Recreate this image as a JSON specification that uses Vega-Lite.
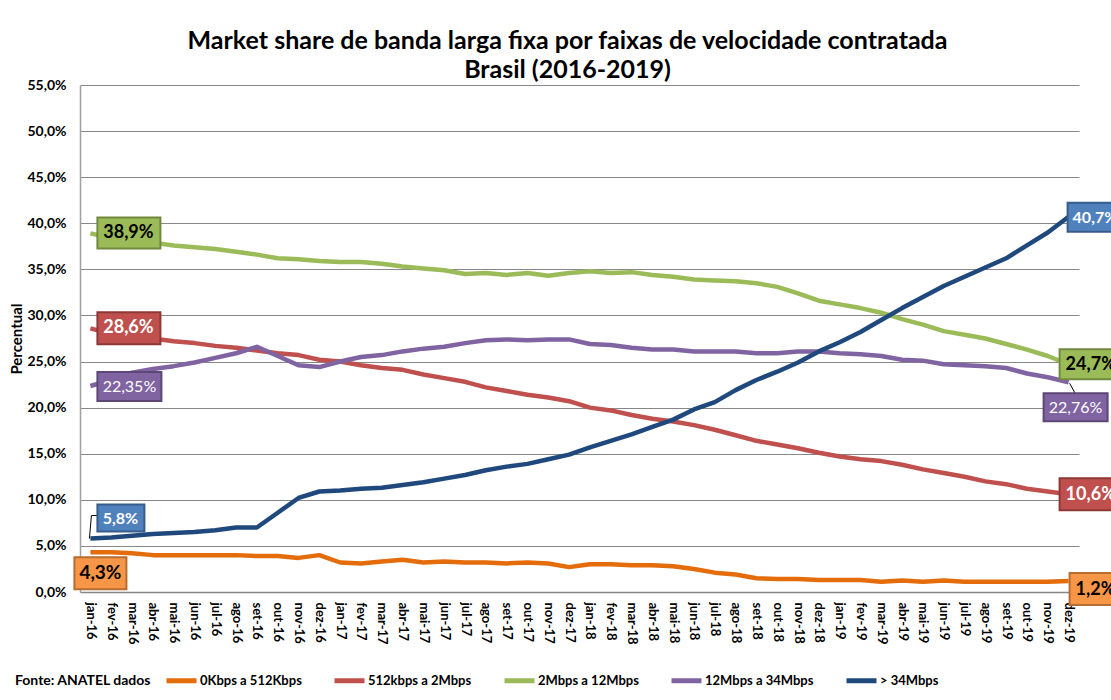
{
  "$schema": "https://vega.github.io/schema/vega-lite/v6.json",
  "width": 999,
  "height": 507,
  "autosize": {"type": "none"},
  "padding": {"left": 80, "top": 85, "right": 32, "bottom": 108},
  "background": "white",
  "title": {
    "text": ["Market share de banda larga fixa por faixas de velocidade contratada", "Brasil (2016-2019)"],
    "font": "Lato",
    "fontSize": 25,
    "fontWeight": "bold",
    "color": "black",
    "anchor": "middle",
    "dx": -12,
    "lineHeight": 29,
    "offset": -5
  },
  "config": {
    "locale": {"number": {"decimal": ",", "thousands": ".", "grouping": [3], "currency": ["R$", ""]}},
    "view": {"stroke": null},
    "font": "Lato"
  },
  "data": {
    "values": [
      {"m": "jan-16", "0Kbps a 512Kbps": 0.043, "512kbps a 2Mbps": 0.286, "2Mbps a 12Mbps": 0.389, "12Mbps a 34Mbps": 0.2235, "> 34Mbps": 0.058},
      {"m": "fev-16", "0Kbps a 512Kbps": 0.043, "512kbps a 2Mbps": 0.280, "2Mbps a 12Mbps": 0.384, "12Mbps a 34Mbps": 0.230, "> 34Mbps": 0.059},
      {"m": "mar-16", "0Kbps a 512Kbps": 0.042, "512kbps a 2Mbps": 0.277, "2Mbps a 12Mbps": 0.381, "12Mbps a 34Mbps": 0.238, "> 34Mbps": 0.061},
      {"m": "abr-16", "0Kbps a 512Kbps": 0.040, "512kbps a 2Mbps": 0.275, "2Mbps a 12Mbps": 0.379, "12Mbps a 34Mbps": 0.242, "> 34Mbps": 0.063},
      {"m": "mai-16", "0Kbps a 512Kbps": 0.040, "512kbps a 2Mbps": 0.272, "2Mbps a 12Mbps": 0.376, "12Mbps a 34Mbps": 0.245, "> 34Mbps": 0.064},
      {"m": "jun-16", "0Kbps a 512Kbps": 0.040, "512kbps a 2Mbps": 0.270, "2Mbps a 12Mbps": 0.374, "12Mbps a 34Mbps": 0.249, "> 34Mbps": 0.065},
      {"m": "jul-16", "0Kbps a 512Kbps": 0.040, "512kbps a 2Mbps": 0.267, "2Mbps a 12Mbps": 0.372, "12Mbps a 34Mbps": 0.254, "> 34Mbps": 0.067},
      {"m": "ago-16", "0Kbps a 512Kbps": 0.040, "512kbps a 2Mbps": 0.265, "2Mbps a 12Mbps": 0.369, "12Mbps a 34Mbps": 0.259, "> 34Mbps": 0.070},
      {"m": "set-16", "0Kbps a 512Kbps": 0.039, "512kbps a 2Mbps": 0.262, "2Mbps a 12Mbps": 0.366, "12Mbps a 34Mbps": 0.266, "> 34Mbps": 0.070},
      {"m": "out-16", "0Kbps a 512Kbps": 0.039, "512kbps a 2Mbps": 0.259, "2Mbps a 12Mbps": 0.362, "12Mbps a 34Mbps": 0.256, "> 34Mbps": 0.086},
      {"m": "nov-16", "0Kbps a 512Kbps": 0.037, "512kbps a 2Mbps": 0.257, "2Mbps a 12Mbps": 0.361, "12Mbps a 34Mbps": 0.246, "> 34Mbps": 0.102},
      {"m": "dez-16", "0Kbps a 512Kbps": 0.040, "512kbps a 2Mbps": 0.252, "2Mbps a 12Mbps": 0.359, "12Mbps a 34Mbps": 0.244, "> 34Mbps": 0.109},
      {"m": "jan-17", "0Kbps a 512Kbps": 0.032, "512kbps a 2Mbps": 0.250, "2Mbps a 12Mbps": 0.358, "12Mbps a 34Mbps": 0.250, "> 34Mbps": 0.110},
      {"m": "fev-17", "0Kbps a 512Kbps": 0.031, "512kbps a 2Mbps": 0.246, "2Mbps a 12Mbps": 0.358, "12Mbps a 34Mbps": 0.255, "> 34Mbps": 0.112},
      {"m": "mar-17", "0Kbps a 512Kbps": 0.033, "512kbps a 2Mbps": 0.243, "2Mbps a 12Mbps": 0.356, "12Mbps a 34Mbps": 0.257, "> 34Mbps": 0.113},
      {"m": "abr-17", "0Kbps a 512Kbps": 0.035, "512kbps a 2Mbps": 0.241, "2Mbps a 12Mbps": 0.353, "12Mbps a 34Mbps": 0.261, "> 34Mbps": 0.116},
      {"m": "mai-17", "0Kbps a 512Kbps": 0.032, "512kbps a 2Mbps": 0.236, "2Mbps a 12Mbps": 0.351, "12Mbps a 34Mbps": 0.264, "> 34Mbps": 0.119},
      {"m": "jun-17", "0Kbps a 512Kbps": 0.033, "512kbps a 2Mbps": 0.232, "2Mbps a 12Mbps": 0.349, "12Mbps a 34Mbps": 0.266, "> 34Mbps": 0.123},
      {"m": "jul-17", "0Kbps a 512Kbps": 0.032, "512kbps a 2Mbps": 0.228, "2Mbps a 12Mbps": 0.345, "12Mbps a 34Mbps": 0.270, "> 34Mbps": 0.127},
      {"m": "ago-17", "0Kbps a 512Kbps": 0.032, "512kbps a 2Mbps": 0.222, "2Mbps a 12Mbps": 0.346, "12Mbps a 34Mbps": 0.273, "> 34Mbps": 0.132},
      {"m": "set-17", "0Kbps a 512Kbps": 0.031, "512kbps a 2Mbps": 0.218, "2Mbps a 12Mbps": 0.344, "12Mbps a 34Mbps": 0.274, "> 34Mbps": 0.136},
      {"m": "out-17", "0Kbps a 512Kbps": 0.032, "512kbps a 2Mbps": 0.214, "2Mbps a 12Mbps": 0.346, "12Mbps a 34Mbps": 0.273, "> 34Mbps": 0.139},
      {"m": "nov-17", "0Kbps a 512Kbps": 0.031, "512kbps a 2Mbps": 0.211, "2Mbps a 12Mbps": 0.343, "12Mbps a 34Mbps": 0.274, "> 34Mbps": 0.144},
      {"m": "dez-17", "0Kbps a 512Kbps": 0.027, "512kbps a 2Mbps": 0.207, "2Mbps a 12Mbps": 0.346, "12Mbps a 34Mbps": 0.274, "> 34Mbps": 0.149},
      {"m": "jan-18", "0Kbps a 512Kbps": 0.030, "512kbps a 2Mbps": 0.200, "2Mbps a 12Mbps": 0.348, "12Mbps a 34Mbps": 0.269, "> 34Mbps": 0.157},
      {"m": "fev-18", "0Kbps a 512Kbps": 0.030, "512kbps a 2Mbps": 0.197, "2Mbps a 12Mbps": 0.346, "12Mbps a 34Mbps": 0.268, "> 34Mbps": 0.164},
      {"m": "mar-18", "0Kbps a 512Kbps": 0.029, "512kbps a 2Mbps": 0.192, "2Mbps a 12Mbps": 0.347, "12Mbps a 34Mbps": 0.265, "> 34Mbps": 0.171},
      {"m": "abr-18", "0Kbps a 512Kbps": 0.029, "512kbps a 2Mbps": 0.188, "2Mbps a 12Mbps": 0.344, "12Mbps a 34Mbps": 0.263, "> 34Mbps": 0.179},
      {"m": "mai-18", "0Kbps a 512Kbps": 0.028, "512kbps a 2Mbps": 0.185, "2Mbps a 12Mbps": 0.342, "12Mbps a 34Mbps": 0.263, "> 34Mbps": 0.187},
      {"m": "jun-18", "0Kbps a 512Kbps": 0.025, "512kbps a 2Mbps": 0.181, "2Mbps a 12Mbps": 0.339, "12Mbps a 34Mbps": 0.261, "> 34Mbps": 0.198},
      {"m": "jul-18", "0Kbps a 512Kbps": 0.021, "512kbps a 2Mbps": 0.176, "2Mbps a 12Mbps": 0.338, "12Mbps a 34Mbps": 0.261, "> 34Mbps": 0.206},
      {"m": "ago-18", "0Kbps a 512Kbps": 0.019, "512kbps a 2Mbps": 0.170, "2Mbps a 12Mbps": 0.337, "12Mbps a 34Mbps": 0.261, "> 34Mbps": 0.219},
      {"m": "set-18", "0Kbps a 512Kbps": 0.015, "512kbps a 2Mbps": 0.164, "2Mbps a 12Mbps": 0.335, "12Mbps a 34Mbps": 0.259, "> 34Mbps": 0.230},
      {"m": "out-18", "0Kbps a 512Kbps": 0.014, "512kbps a 2Mbps": 0.160, "2Mbps a 12Mbps": 0.331, "12Mbps a 34Mbps": 0.259, "> 34Mbps": 0.239},
      {"m": "nov-18", "0Kbps a 512Kbps": 0.014, "512kbps a 2Mbps": 0.156, "2Mbps a 12Mbps": 0.324, "12Mbps a 34Mbps": 0.261, "> 34Mbps": 0.249},
      {"m": "dez-18", "0Kbps a 512Kbps": 0.013, "512kbps a 2Mbps": 0.151, "2Mbps a 12Mbps": 0.316, "12Mbps a 34Mbps": 0.261, "> 34Mbps": 0.261},
      {"m": "jan-19", "0Kbps a 512Kbps": 0.013, "512kbps a 2Mbps": 0.147, "2Mbps a 12Mbps": 0.312, "12Mbps a 34Mbps": 0.259, "> 34Mbps": 0.271},
      {"m": "fev-19", "0Kbps a 512Kbps": 0.013, "512kbps a 2Mbps": 0.144, "2Mbps a 12Mbps": 0.308, "12Mbps a 34Mbps": 0.258, "> 34Mbps": 0.282},
      {"m": "mar-19", "0Kbps a 512Kbps": 0.011, "512kbps a 2Mbps": 0.142, "2Mbps a 12Mbps": 0.303, "12Mbps a 34Mbps": 0.256, "> 34Mbps": 0.295},
      {"m": "abr-19", "0Kbps a 512Kbps": 0.0125, "512kbps a 2Mbps": 0.138, "2Mbps a 12Mbps": 0.296, "12Mbps a 34Mbps": 0.252, "> 34Mbps": 0.308},
      {"m": "mai-19", "0Kbps a 512Kbps": 0.011, "512kbps a 2Mbps": 0.133, "2Mbps a 12Mbps": 0.290, "12Mbps a 34Mbps": 0.251, "> 34Mbps": 0.320},
      {"m": "jun-19", "0Kbps a 512Kbps": 0.0125, "512kbps a 2Mbps": 0.129, "2Mbps a 12Mbps": 0.283, "12Mbps a 34Mbps": 0.247, "> 34Mbps": 0.332},
      {"m": "jul-19", "0Kbps a 512Kbps": 0.011, "512kbps a 2Mbps": 0.125, "2Mbps a 12Mbps": 0.279, "12Mbps a 34Mbps": 0.246, "> 34Mbps": 0.342},
      {"m": "ago-19", "0Kbps a 512Kbps": 0.011, "512kbps a 2Mbps": 0.120, "2Mbps a 12Mbps": 0.275, "12Mbps a 34Mbps": 0.245, "> 34Mbps": 0.352},
      {"m": "set-19", "0Kbps a 512Kbps": 0.011, "512kbps a 2Mbps": 0.117, "2Mbps a 12Mbps": 0.269, "12Mbps a 34Mbps": 0.243, "> 34Mbps": 0.362},
      {"m": "out-19", "0Kbps a 512Kbps": 0.011, "512kbps a 2Mbps": 0.112, "2Mbps a 12Mbps": 0.263, "12Mbps a 34Mbps": 0.237, "> 34Mbps": 0.376},
      {"m": "nov-19", "0Kbps a 512Kbps": 0.011, "512kbps a 2Mbps": 0.109, "2Mbps a 12Mbps": 0.256, "12Mbps a 34Mbps": 0.233, "> 34Mbps": 0.390},
      {"m": "dez-19", "0Kbps a 512Kbps": 0.012, "512kbps a 2Mbps": 0.106, "2Mbps a 12Mbps": 0.247, "12Mbps a 34Mbps": 0.2276, "> 34Mbps": 0.407}
    ]
  },
  "transform": [
    {"fold": ["0Kbps a 512Kbps", "512kbps a 2Mbps", "2Mbps a 12Mbps", "12Mbps a 34Mbps", "> 34Mbps"], "as": ["series", "value"]}
  ],
  "encoding": {
    "x": {
      "field": "m", "type": "ordinal", "sort": null,
      "scale": {"type": "point", "padding": 0.5},
      "axis": {
        "title": null, "labelAngle": 90, "labelFont": "Lato", "labelFontSize": 13, "labelFontWeight": "bold",
        "labelColor": "black", "labelPadding": 10, "ticks": false, "domainColor": "#878787", "domainWidth": 1.5,
        "labelOverlap": false, "grid": false
      }
    },
    "y": {
      "field": "value", "type": "quantitative",
      "scale": {"domain": [0, 0.55], "nice": false, "zero": true},
      "axis": {
        "title": "Percentual", "titleFont": "Lato", "titleFontSize": 15, "titleFontWeight": "bold", "titleColor": "black",
        "titlePadding": 2,
        "values": [0, 0.05, 0.1, 0.15, 0.2, 0.25, 0.3, 0.35, 0.4, 0.45, 0.5, 0.55],
        "format": ".1%", "labelFont": "Lato", "labelFontSize": 14, "labelFontWeight": "bold", "labelColor": "black",
        "labelPadding": 14, "ticks": false, "domainColor": "#a0a0a0", "domainWidth": 1.5,
        "grid": true, "gridColor": "#878787", "gridWidth": 1.2
      }
    }
  },
  "layer": [
    {
      "mark": {"type": "line", "strokeWidth": 4.5, "strokeJoin": "round"},
      "encoding": {
        "color": {
          "field": "series", "type": "nominal",
          "scale": {
            "domain": ["0Kbps a 512Kbps", "512kbps a 2Mbps", "2Mbps a 12Mbps", "12Mbps a 34Mbps", "> 34Mbps"],
            "range": ["#E46C0A", "#C0504D", "#9BBB59", "#8064A2", "#1F497D"]
          },
          "legend": {
            "orient": "none", "legendX": -65, "legendY": 578, "direction": "horizontal",
            "title": "Fonte:  ANATEL dados", "titleOrient": "left", "titleFont": "Lato", "titleFontSize": 14,
            "titleFontWeight": "bold", "titleColor": "black", "titlePadding": 9, "titleAnchor": "middle",
            "titleBaseline": "line-top", "titleLineHeight": 8,
            "labelFont": "Lato", "labelFontSize": 13, "labelFontWeight": "bold", "labelColor": "black",
            "labelOffset": 1, "columnPadding": 22, "symbolType": "stroke", "symbolStrokeWidth": 5, "symbolSize": 900,
            "labelLimit": 300
          }
        }
      }
    },
    {
      "transform": [{"filter": "datum.m == 'jan-16' && datum.series == '2Mbps a 12Mbps'"}],
      "layer": [
        {"mark": {"type": "rect", "fill": "#9BBB59", "stroke": "#71893F", "strokeWidth": 2, "xOffset": 7, "x2Offset": 70, "yOffset": -16, "y2Offset": 15},
         "encoding": {"x2": {"field": "m"}, "y2": {"field": "value"}}},
        {"mark": {"type": "text", "dx": 38, "dy": 0, "font": "Lato", "fontSize": 18, "fontWeight": "bold", "fill": "black", "align": "center", "baseline": "middle"},
         "encoding": {"text": {"field": "value", "format": ".2~%"}}}
      ]
    },
    {
      "transform": [{"filter": "datum.m == 'jan-16' && datum.series == '512kbps a 2Mbps'"}],
      "layer": [
        {"mark": {"type": "rect", "fill": "#C0504D", "stroke": "#8C3836", "strokeWidth": 2, "xOffset": 7, "x2Offset": 70, "yOffset": -16, "y2Offset": 16},
         "encoding": {"x2": {"field": "m"}, "y2": {"field": "value"}}},
        {"mark": {"type": "text", "dx": 38, "dy": 0, "font": "Lato", "fontSize": 18, "fontWeight": "bold", "fill": "white", "align": "center", "baseline": "middle"},
         "encoding": {"text": {"field": "value", "format": ".2~%"}}}
      ]
    },
    {
      "transform": [{"filter": "datum.m == 'jan-16' && datum.series == '12Mbps a 34Mbps'"}],
      "layer": [
        {"mark": {"type": "rect", "fill": "#8064A2", "stroke": "#5C4776", "strokeWidth": 2, "xOffset": 7, "x2Offset": 71, "yOffset": -14, "y2Offset": 15},
         "encoding": {"x2": {"field": "m"}, "y2": {"field": "value"}}},
        {"mark": {"type": "text", "dx": 39, "dy": 1, "font": "Lato", "fontSize": 16, "fontWeight": "normal", "fill": "white", "align": "center", "baseline": "middle"},
         "encoding": {"text": {"field": "value", "format": ".2~%"}}}
      ]
    },
    {
      "transform": [{"filter": "datum.m == 'jan-16' && datum.series == '> 34Mbps'"}],
      "layer": [
        {"mark": {"type": "rule", "stroke": "black", "strokeWidth": 1, "xOffset": -1, "x2Offset": 1, "yOffset": 0, "y2Offset": -23},
         "encoding": {"x2": {"field": "m"}, "y2": {"field": "value"}}},
        {"mark": {"type": "rule", "stroke": "black", "strokeWidth": 1, "xOffset": 1, "x2Offset": 7, "yOffset": -23, "y2Offset": -23},
         "encoding": {"x2": {"field": "m"}, "y2": {"field": "value"}}},
        {"mark": {"type": "rect", "fill": "#4F81BD", "stroke": "#385D8A", "strokeWidth": 2, "xOffset": 7, "x2Offset": 54, "yOffset": -34, "y2Offset": -7},
         "encoding": {"x2": {"field": "m"}, "y2": {"field": "value"}}},
        {"mark": {"type": "text", "dx": 30, "dy": -20, "font": "Lato", "fontSize": 16, "fontWeight": "bold", "fill": "white", "align": "center", "baseline": "middle"},
         "encoding": {"text": {"field": "value", "format": ".2~%"}}}
      ]
    },
    {
      "transform": [{"filter": "datum.m == 'jan-16' && datum.series == '0Kbps a 512Kbps'"}],
      "layer": [
        {"mark": {"type": "rect", "fill": "#F79646", "stroke": "#B66D31", "strokeWidth": 2, "xOffset": -16, "x2Offset": 36, "yOffset": 5, "y2Offset": 37},
         "encoding": {"x2": {"field": "m"}, "y2": {"field": "value"}}},
        {"mark": {"type": "text", "dx": 10, "dy": 21, "font": "Lato", "fontSize": 19, "fontWeight": "bold", "fill": "black", "align": "center", "baseline": "middle"},
         "encoding": {"text": {"field": "value", "format": ".2~%"}}}
      ]
    },
    {
      "transform": [{"filter": "datum.m == 'dez-19' && datum.series == '> 34Mbps'"}],
      "layer": [
        {"mark": {"type": "rect", "fill": "#4F81BD", "stroke": "#385D8A", "strokeWidth": 2, "xOffset": -1, "x2Offset": 58, "yOffset": -14, "y2Offset": 15},
         "encoding": {"x2": {"field": "m"}, "y2": {"field": "value"}}},
        {"mark": {"type": "text", "dx": 4, "dy": 1, "font": "Lato", "fontSize": 16, "fontWeight": "bold", "fill": "white", "align": "left", "baseline": "middle"},
         "encoding": {"text": {"field": "value", "format": ".2~%"}}}
      ]
    },
    {
      "transform": [{"filter": "datum.m == 'dez-19' && datum.series == '2Mbps a 12Mbps'"}],
      "layer": [
        {"mark": {"type": "rect", "fill": "#9BBB59", "stroke": "#71893F", "strokeWidth": 2, "xOffset": -9, "x2Offset": 55, "yOffset": -15, "y2Offset": 15},
         "encoding": {"x2": {"field": "m"}, "y2": {"field": "value"}}},
        {"mark": {"type": "text", "dx": -3, "dy": 1, "font": "Lato", "fontSize": 18, "fontWeight": "bold", "fill": "black", "align": "left", "baseline": "middle"},
         "encoding": {"text": {"field": "value", "format": ".2~%"}}}
      ]
    },
    {
      "transform": [{"filter": "datum.m == 'dez-19' && datum.series == '12Mbps a 34Mbps'"}],
      "layer": [
        {"mark": {"type": "rule", "stroke": "black", "strokeWidth": 1, "xOffset": 1, "x2Offset": 7, "yOffset": 1, "y2Offset": 12},
         "encoding": {"x2": {"field": "m"}, "y2": {"field": "value"}}},
        {"mark": {"type": "rect", "fill": "#8064A2", "stroke": "#5C4776", "strokeWidth": 2, "xOffset": -25, "x2Offset": 39, "yOffset": 11, "y2Offset": 39},
         "encoding": {"x2": {"field": "m"}, "y2": {"field": "value"}}},
        {"mark": {"type": "text", "dx": 7, "dy": 26, "font": "Lato", "fontSize": 16, "fontWeight": "normal", "fill": "white", "align": "center", "baseline": "middle"},
         "encoding": {"text": {"field": "value", "format": ".2~%"}}}
      ]
    },
    {
      "transform": [{"filter": "datum.m == 'dez-19' && datum.series == '512kbps a 2Mbps'"}],
      "layer": [
        {"mark": {"type": "rect", "fill": "#C0504D", "stroke": "#8C3836", "strokeWidth": 2, "xOffset": -9, "x2Offset": 55, "yOffset": -16, "y2Offset": 16},
         "encoding": {"x2": {"field": "m"}, "y2": {"field": "value"}}},
        {"mark": {"type": "text", "dx": -3, "dy": 1, "font": "Lato", "fontSize": 18, "fontWeight": "bold", "fill": "white", "align": "left", "baseline": "middle"},
         "encoding": {"text": {"field": "value", "format": ".2~%"}}}
      ]
    },
    {
      "transform": [{"filter": "datum.m == 'dez-19' && datum.series == '0Kbps a 512Kbps'"}],
      "layer": [
        {"mark": {"type": "rect", "fill": "#F79646", "stroke": "#B66D31", "strokeWidth": 2, "xOffset": 1, "x2Offset": 60, "yOffset": -8, "y2Offset": 24},
         "encoding": {"x2": {"field": "m"}, "y2": {"field": "value"}}},
        {"mark": {"type": "text", "dx": 7, "dy": 9, "font": "Lato", "fontSize": 18, "fontWeight": "bold", "fill": "black", "align": "left", "baseline": "middle"},
         "encoding": {"text": {"field": "value", "format": ".2~%"}}}
      ]
    }
  ]
}
